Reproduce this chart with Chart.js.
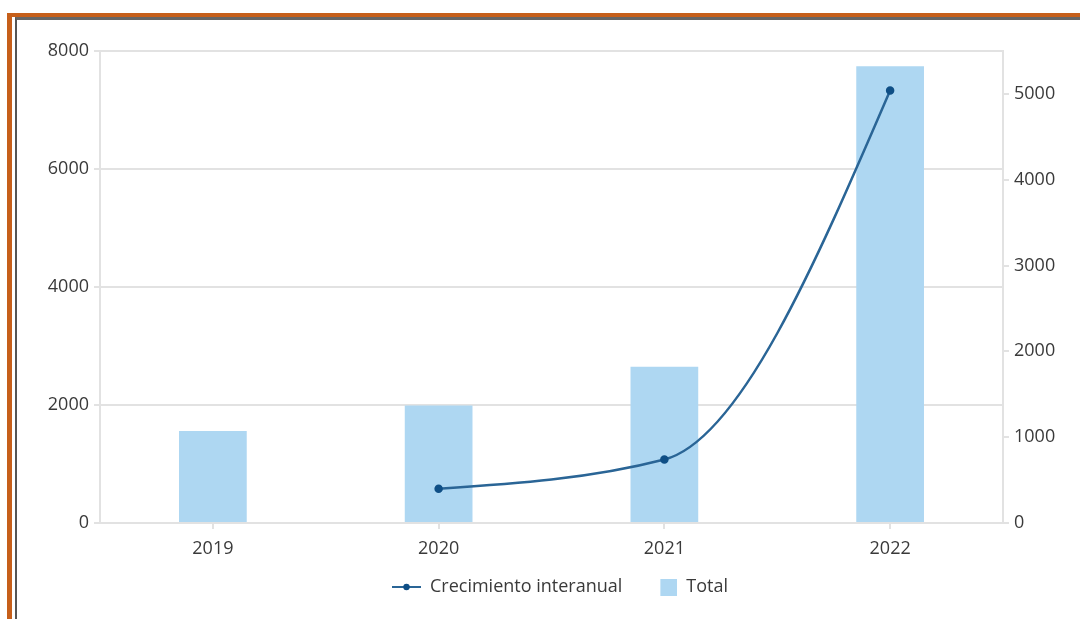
<!DOCTYPE html>
<html>
<head>
<meta charset="utf-8">
<script src="https://cdn.jsdelivr.net/npm/chart.js@4.4.1/dist/chart.umd.min.js"></script>
<style>
  html, body { margin: 0; padding: 0; background: #fff; }
  body { width: 1080px; height: 619px; position: relative; overflow: hidden; }
  .frame { position: absolute; left: 7px; top: 13px; width: 1100px; height: 640px; border-left: 5px solid #c65f1a; border-top: 4px solid #c65f1a; }
  .inner { position: absolute; left: 15px; top: 17px; width: 1100px; height: 600px; border-left: 2px solid #555; border-top: 3px solid #666; border-bottom: 2px solid #e4e4e4; }
  #wrap { position: absolute; left: 0; top: 0; width: 1080px; height: 619px; }
</style>
</head>
<body>
<div class="frame"></div>
<div class="inner"></div>
<div id="wrap"><canvas id="c"></canvas></div>
<script>
  const years = ['2019', '2020', '2021', '2022'];
  const total = [1560, 1990, 2650, 7740];
  const crecimiento = [null, 400, 740, 5040];
  const leftTicks = [0, 2000, 4000, 6000, 8000];
  const rightTicks = [0, 1000, 2000, 3000, 4000, 5000];

  const BAR = '#aed7f2', LINE = '#2a6596', DOT = '#0f4f86', GRID = '#e2e2e2', TXT = '#3a3a3a';
  const FONT = { family: 'Open Sans', size: 18 };
  const MARK_W = 45;

  // legend markers, drawn at the right end of a wider canvas so items sit apart
  const lineMark = document.createElement('canvas');
  lineMark.width = MARK_W; lineMark.height = 10;
  (function () {
    const g = lineMark.getContext('2d');
    g.strokeStyle = LINE; g.lineWidth = 2;
    g.beginPath(); g.moveTo(16, 5); g.lineTo(45, 5); g.stroke();
    g.fillStyle = DOT; g.beginPath(); g.arc(30.5, 5, 3.2, 0, Math.PI * 2); g.fill();
  })();
  const boxMark = document.createElement('canvas');
  boxMark.width = MARK_W; boxMark.height = 17;
  (function () { const g = boxMark.getContext('2d'); g.fillStyle = BAR; g.fillRect(MARK_W - 17, 0, 17, 17); })();

  // monotone-x smoothing (d3 style) applied to the line's bezier control points
  const sign = v => (v < 0 ? -1 : 1);
  function slope3(a, b, c) {
    const h0 = b.x - a.x, h1 = c.x - b.x;
    const s0 = (b.y - a.y) / h0, s1 = (c.y - b.y) / h1;
    const p = (s0 * h1 + s1 * h0) / (h0 + h1);
    return (sign(s0) + sign(s1)) * Math.min(Math.abs(s0), Math.abs(s1), 0.5 * Math.abs(p)) || 0;
  }
  const slope2 = (a, b, t) => (3 * (b.y - a.y) / (b.x - a.x) - t) / 2;
  const smoothPlugin = {
    id: 'smoothX',
    beforeDatasetsDraw(chart) {
      const line = chart.getDatasetMeta(0).dataset;
      const pts = line.points.filter(p => !p.skip);
      if (pts.length < 3) return;
      const t = pts.map((p, i) => (i > 0 && i < pts.length - 1 ? slope3(pts[i - 1], p, pts[i + 1]) : 0));
      t[0] = slope2(pts[0], pts[1], t[1]);
      t[pts.length - 1] = slope2(pts[pts.length - 2], pts[pts.length - 1], t[pts.length - 2]);
      for (let i = 0; i < pts.length - 1; i++) {
        const a = pts[i], b = pts[i + 1], d = (b.x - a.x) / 3;
        a.cp2x = a.x + d; a.cp2y = a.y + d * t[i];
        b.cp1x = b.x - d; b.cp1y = b.y - d * t[i + 1];
      }
      delete line._path;
    },
  };

  new Chart(document.getElementById('c'), {
    data: {
      labels: years,
      datasets: [
        { type: 'line', label: 'Crecimiento interanual', data: crecimiento, yAxisID: 'y1', borderColor: LINE, borderWidth: 2.5,
          pointRadius: 3, pointBackgroundColor: DOT, pointBorderColor: DOT, cubicInterpolationMode: 'monotone', spanGaps: false, order: 0 },
        { type: 'bar', label: 'Total', data: total, yAxisID: 'y', backgroundColor: BAR, barPercentage: 0.3, categoryPercentage: 1, order: 1 },
      ],
    },
    plugins: [smoothPlugin],
    options: {
      responsive: true, maintainAspectRatio: false, animation: false,
      layout: { padding: { top: 51, bottom: 13, left: 24, right: 0 } },
      plugins: {
        tooltip: { enabled: false },
        legend: {
          position: 'bottom',
          labels: {
            usePointStyle: true, pointStyleWidth: MARK_W, color: TXT, font: { family: 'Open Sans', size: 18 }, padding: 10,
            generateLabels: chart => chart.data.datasets.map((d, i) => ({
              text: d.label, pointStyle: i === 0 ? lineMark : boxMark, datasetIndex: i, fontColor: TXT, lineWidth: 0, strokeStyle: 'transparent',
            })),
          },
        },
      },
      scales: {
        x: {
          offset: true,
          grid: { offset: false, drawOnChartArea: false, drawTicks: true, tickLength: 6, color: GRID, lineWidth: 2 },
          border: { color: GRID, width: 2 },
          ticks: { color: TXT, font: FONT, padding: 9 },
          afterFit: s => { s.height = 45; },
        },
        y: {
          position: 'left', min: 0, max: 8000,
          afterBuildTicks: s => { s.ticks = leftTicks.map(v => ({ value: v })); },
          grid: { color: GRID, lineWidth: 2, tickLength: 6 },
          border: { color: GRID, width: 2 },
          ticks: { color: TXT, font: FONT, padding: 5, callback: v => String(v) },
          afterFit: s => { s.width = 76; },
        },
        y1: {
          position: 'right', min: 0, max: 5500,
          afterBuildTicks: s => { s.ticks = rightTicks.map(v => ({ value: v })); },
          grid: { drawOnChartArea: false, color: GRID, lineWidth: 2, tickLength: 6 },
          border: { color: GRID, width: 2 },
          ticks: { color: TXT, font: FONT, padding: 5, callback: v => String(v) },
          afterFit: s => { s.width = 77; },
        },
      },
    },
  });
</script>
</body>
</html>
